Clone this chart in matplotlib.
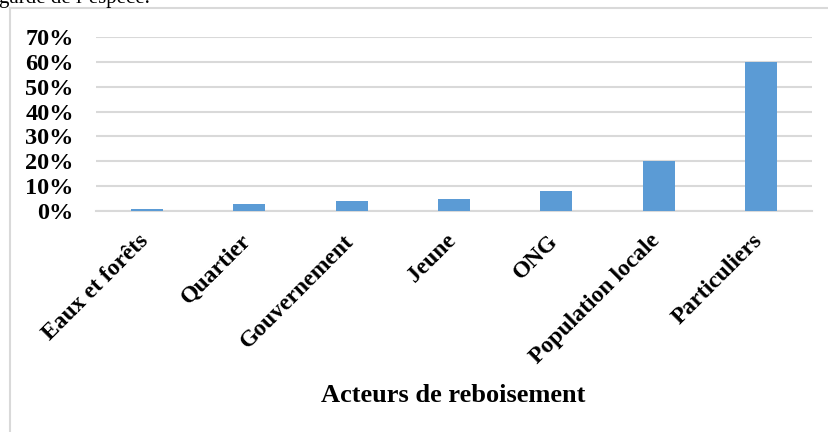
import matplotlib
matplotlib.use("Agg")
import matplotlib.pyplot as plt
import matplotlib.transforms as mtransforms
from matplotlib.lines import Line2D
from matplotlib.ticker import FuncFormatter, MultipleLocator

categories = ["Eaux et forêts", "Quartier", "Gouvernement", "Jeune", "ONG",
              "Population locale", "Particuliers"]
values = [0.01, 0.03, 0.04, 0.05, 0.08, 0.20, 0.60]
x_title = "Acteurs de reboisement"
above_text = "garde de l’espèce."

W, H = 829, 432
fig = plt.figure(figsize=(W / 100, H / 100), dpi=100)
plt.rcParams['font.family'] = ['Liberation Serif', 'DejaVu Serif']

grid_c = "#D9D9D9"
bar_c = "#5B9BD5"

# axes placement (pixels -> fraction)
left, right = 96 / W, 812 / W
bottom, top = (H - 211) / H, (H - 37) / H
ax = fig.add_axes([left, bottom, right - left, top - bottom])

xs = list(range(len(categories)))
ax.bar(xs, values, width=0.313, color=bar_c, zorder=3)
ax.set_xlim(-0.5, len(categories) - 0.5)
ax.set_ylim(0, 0.70)
ax.yaxis.set_major_locator(MultipleLocator(0.10))
ax.yaxis.set_major_formatter(FuncFormatter(lambda v, p: f"{round(v * 100):d}%"))
ax.grid(axis="y", color=grid_c, linewidth=1.5, zorder=0)
for s in ["top", "right", "left"]:
    ax.spines[s].set_visible(False)
ax.spines["bottom"].set_color(grid_c)
ax.spines["bottom"].set_linewidth(1.5)
ax.tick_params(axis="y", length=0, pad=16, labelsize=17.5)
ax.tick_params(axis="x", length=0, pad=14, labelsize=17)
for lab in ax.get_yticklabels():
    lab.set_fontweight("bold")

ax.set_xticks(xs)
ax.set_xticklabels(categories, rotation=45, ha="right", fontweight="bold")
offset = mtransforms.ScaledTranslation(6 / 100, 0, fig.dpi_scale_trans)
for lab in ax.get_xticklabels():
    lab.set_transform(lab.get_transform() + offset)

fig.text(453 / W, (H - 395) / H, x_title, ha="center", va="center",
         fontsize=19, fontweight="bold")

# document frame
fig.add_artist(Line2D([10 / W, 10 / W], [0, (H - 8) / H], color=grid_c,
                      linewidth=1.5, transform=fig.transFigure))
fig.add_artist(Line2D([10 / W, 1], [(H - 8) / H, (H - 8) / H], color=grid_c,
                      linewidth=1.5, transform=fig.transFigure))
# text of the page above the chart, cut by the top edge as in the reference
fig.text(-1 / W, (H - 3) / H, above_text, ha="left", va="baseline",
         fontsize=15)

fig.savefig("out.png", dpi=100)
